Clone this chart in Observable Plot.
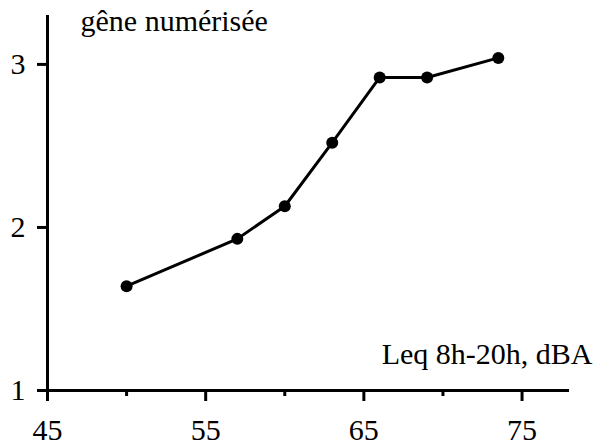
<!DOCTYPE html>
<html>
<head>
<meta charset="utf-8">
<script src="https://cdn.jsdelivr.net/npm/d3@7"></script>
<script src="https://cdn.jsdelivr.net/npm/@observablehq/plot@0.6"></script>
<style>
  html, body { margin: 0; padding: 0; background: #fff; }
  #chart svg { display: block; }
  #chart svg text { font-family: 'Liberation Serif', 'Times New Roman', serif !important; }
</style>
</head>
<body>
<div id="chart"></div>
<script>
const leq = [50, 57, 60, 63, 66, 69, 73.5];
const gene = [1.64, 1.93, 2.13, 2.52, 2.92, 2.92, 3.04];
const xMajorTicks = [45, 55, 65, 75];
const xMinorTicks = [50, 60, 70];
const yTicks = [1, 2, 3];
const title = "gêne numérisée";
const xLabel = "Leq 8h-20h, dBA";

const data = leq.map((x, i) => ({x, y: gene[i]}));
const font = "'Liberation Serif', 'Times New Roman', serif";

const chart = Plot.plot({
  width: 599,
  height: 447,
  marginLeft: 47,
  marginRight: 30,
  marginTop: 15,
  marginBottom: 57,
  style: {fontFamily: font, fontSize: "30px", color: "#000", background: "#fff"},
  x: {domain: [45, 78]},
  y: {domain: [1, 3.3]},
  marks: [
    Plot.axisX({ticks: xMinorTicks, tickSize: 6, text: null, strokeWidth: 3, label: null}),
    Plot.axisX({ticks: xMajorTicks, tickSize: 11, tickPadding: 17, tickFormat: d => String(d), strokeWidth: 3, fontSize: 30, fontFamily: font, fill: "#000", label: null}),
    Plot.axisY({ticks: yTicks, tickSize: 10, tickPadding: 12, tickFormat: d => String(d), strokeWidth: 3, fontSize: 30, fontFamily: font, fill: "#000", label: null}),
    Plot.ruleX([45], {stroke: "#000", strokeWidth: 3}),
    Plot.ruleY([1], {stroke: "#000", strokeWidth: 3}),
    Plot.line(data, {x: "x", y: "y", stroke: "#000", strokeWidth: 3}),
    Plot.dot(data, {x: "x", y: "y", r: 6, fill: "#000", stroke: null}),
    Plot.text([title], {text: d => d, frameAnchor: "top-left", textAnchor: "start", lineAnchor: "bottom", dx: 33, dy: 15, fontSize: 30, fontFamily: font, fill: "#000"}),
    Plot.text([xLabel], {text: d => d, frameAnchor: "bottom-right", textAnchor: "end", lineAnchor: "bottom", dx: 23, dy: -27, fontSize: 30, fontFamily: font, fill: "#000"})
  ]
});
document.getElementById("chart").appendChild(chart);
</script>
</body>
</html>
